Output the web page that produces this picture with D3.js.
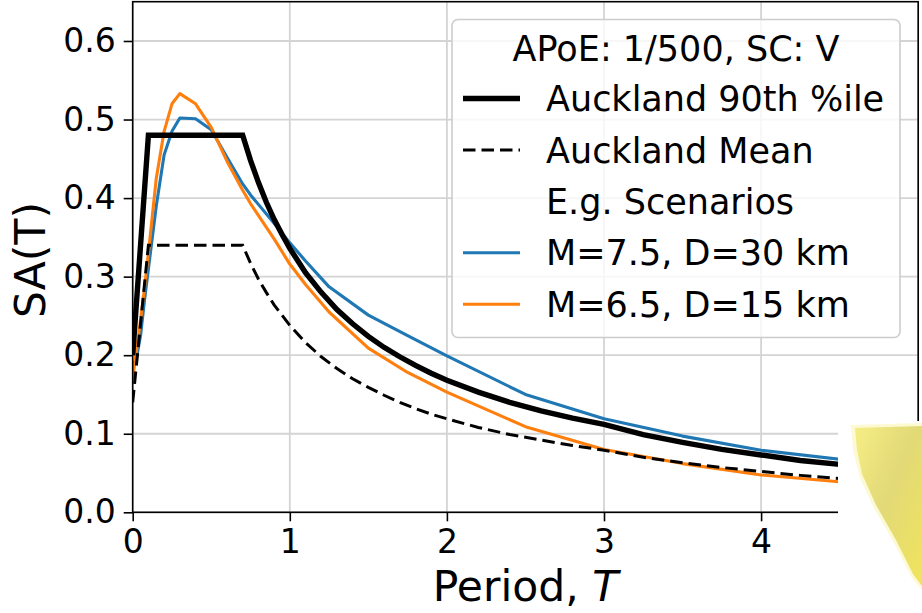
<!DOCTYPE html>
<html>
<head>
<meta charset="utf-8">
<script src="https://cdn.jsdelivr.net/npm/d3@7"></script>
<style>
  html, body { margin: 0; padding: 0; background: #ffffff; }
  svg { display: block; font-family: "DejaVu Sans", sans-serif; }
</style>
</head>
<body>
<svg id="chart" width="922" height="613"></svg>
<script>
// ---- Data ----
const aucklandPeriods = [0, 0.1, 0.7, 0.75, 0.8, 0.85, 0.9, 0.95, 1.0, 1.1, 1.2, 1.3, 1.4, 1.5, 1.6, 1.7, 1.8, 1.9, 2.0, 2.2, 2.4, 2.6, 2.8, 3.0, 3.25, 3.5, 3.75, 4.0, 4.25, 4.5, 4.75, 5.0];
const auckland90 = [0.20, 0.48, 0.48, 0.448, 0.42, 0.395, 0.373, 0.354, 0.336, 0.305, 0.28, 0.258, 0.24, 0.224, 0.21, 0.198, 0.187, 0.177, 0.168, 0.153, 0.14, 0.129, 0.12, 0.112, 0.099, 0.089, 0.08, 0.073, 0.066, 0.061, 0.056, 0.052];
const aucklandMean = [0.14, 0.34, 0.34, 0.317, 0.297, 0.28, 0.264, 0.251, 0.238, 0.216, 0.198, 0.183, 0.17, 0.159, 0.149, 0.14, 0.132, 0.125, 0.119, 0.108, 0.099, 0.092, 0.085, 0.079, 0.070, 0.063, 0.057, 0.052, 0.047, 0.043, 0.040, 0.037];

const scenarioPeriods = [0, 0.02, 0.05, 0.075, 0.1, 0.15, 0.2, 0.25, 0.3, 0.4, 0.5, 0.6, 0.7, 0.75, 0.8, 0.9, 1.0, 1.1, 1.25, 1.5, 1.75, 2.0, 2.5, 3.0, 3.5, 4.0, 5.0];
const scenarioM75 = [0.19, 0.192, 0.225, 0.27, 0.31, 0.39, 0.455, 0.485, 0.502, 0.501, 0.487, 0.452, 0.418, 0.404, 0.392, 0.368, 0.343, 0.32, 0.287, 0.251, 0.225, 0.199, 0.15, 0.119, 0.097, 0.079, 0.056];
const scenarioM65 = [0.17, 0.20, 0.245, 0.285, 0.33, 0.425, 0.485, 0.52, 0.533, 0.52, 0.49, 0.447, 0.41, 0.393, 0.378, 0.348, 0.316, 0.29, 0.255, 0.209, 0.178, 0.153, 0.109, 0.080, 0.062, 0.0475, 0.030];

const xTicks = [0, 1, 2, 3, 4];
const yTicks = [0.0, 0.1, 0.2, 0.3, 0.4, 0.5, 0.6];

const legendTitle = "APoE: 1/500, SC: V";
const legendLabels = ["Auckland 90th %ile", "Auckland Mean", "E.g. Scenarios", "M=7.5, D=30 km", "M=6.5, D=15 km"];
const xLabel = "Period, ";
const xLabelItalic = "T";
const yLabel = "SA(T)";

// ---- Layout ----
const svg = d3.select("#chart");
const pL = 132.7, pR = 918.2, pT = 1.7, pB = 512.3;
const x = d3.scaleLinear().domain([0, 5]).range([pL, pR]);
const y = d3.scaleLinear().domain([0, 0.65]).range([pB, pT]);

const blue = "#1f77b4", orange = "#ff7f0e";
const tickFont = 33, labelFont = 42.5, legendFont = 35;
const wThick = 5.4, wThin = 3.1, wDash = 3.0, dashPat = "12.5,6";

// grid
const grid = svg.append("g");
grid.selectAll("line.gx").data([0, 1, 2, 3, 4, 5]).enter().append("line")
  .attr("x1", d => x(d)).attr("x2", d => x(d)).attr("y1", pT).attr("y2", pB)
  .attr("stroke", "#d4d4d4").attr("stroke-width", 1.8);
grid.selectAll("line.gy").data(yTicks).enter().append("line")
  .attr("x1", pL).attr("x2", pR).attr("y1", d => y(d)).attr("y2", d => y(d))
  .attr("stroke", "#d4d4d4").attr("stroke-width", 1.8);

// lines
const line = d3.line().x(d => x(d[0])).y(d => y(d[1]));
const zip = (a, b) => a.map((v, i) => [v, b[i]]);
svg.append("clipPath").attr("id", "plotclip").append("rect")
  .attr("x", pL).attr("y", pT).attr("width", pR - pL).attr("height", pB - pT);
const plot = svg.append("g").attr("clip-path", "url(#plotclip)");

plot.append("path").datum(zip(scenarioPeriods, scenarioM75)).attr("d", line)
  .attr("fill", "none").attr("stroke", blue).attr("stroke-width", wThin).attr("stroke-linejoin", "round");
plot.append("path").datum(zip(scenarioPeriods, scenarioM65)).attr("d", line)
  .attr("fill", "none").attr("stroke", orange).attr("stroke-width", wThin).attr("stroke-linejoin", "round");
plot.append("path").datum(zip(aucklandPeriods, auckland90)).attr("d", line)
  .attr("fill", "none").attr("stroke", "#000").attr("stroke-width", wThick).attr("stroke-linejoin", "miter");
plot.append("path").datum(zip(aucklandPeriods, aucklandMean)).attr("d", line)
  .attr("fill", "none").attr("stroke", "#000").attr("stroke-width", wDash)
  .attr("stroke-dasharray", dashPat);

// spines
svg.append("rect").attr("x", pL).attr("y", pT).attr("width", pR - pL).attr("height", pB - pT)
  .attr("fill", "none").attr("stroke", "#000").attr("stroke-width", 1.6);

// axes
const xAxis = d3.axisBottom(x).tickValues(xTicks).tickFormat(d3.format("d")).tickSizeOuter(0).tickSize(9).tickPadding(8);
const yAxis = d3.axisLeft(y).tickValues(yTicks).tickFormat(d3.format(".1f")).tickSizeOuter(0).tickSize(9).tickPadding(8);
const gx = svg.append("g").attr("transform", `translate(0,${pB})`).call(xAxis);
const gy = svg.append("g").attr("transform", `translate(${pL},0)`).call(yAxis);
[gx, gy].forEach(g => {
  g.select(".domain").remove();
  g.selectAll(".tick line").attr("stroke", "#000").attr("stroke-width", 1.6);
  g.selectAll(".tick text").attr("fill", "#000").style("font-size", tickFont + "px")
    .style("font-family", "'DejaVu Sans', sans-serif");
});

// axis labels
const xl = svg.append("text").attr("x", (pL + pR) / 2).attr("y", 601)
  .attr("text-anchor", "middle").style("font-size", labelFont + "px").attr("fill", "#000");
xl.append("tspan").text(xLabel);
xl.append("tspan").text(xLabelItalic).style("font-style", "italic");
svg.append("text").attr("transform", `translate(45,${(pT + pB) / 2 + 3}) rotate(-90)`)
  .attr("text-anchor", "middle").style("font-size", labelFont + "px").attr("fill", "#000").text(yLabel);

// legend
const lg = svg.append("g");
lg.append("rect").attr("x", 452).attr("y", 19.5).attr("width", 448).attr("height", 318).attr("rx", 6)
  .attr("fill", "#ffffff").attr("fill-opacity", 0.8).attr("stroke", "#cccccc").attr("stroke-width", 1.6);
lg.append("text").attr("x", 676).attr("y", 61).attr("text-anchor", "middle")
  .style("font-size", legendFont + "px").attr("fill", "#000").text(legendTitle);
const rowY = [98.5, 150, 201.3, 252.8, 304.3];
const handles = [
  {stroke: "#000", w: wThick, dash: null},
  {stroke: "#000", w: wDash, dash: dashPat},
  null,
  {stroke: blue, w: wThin, dash: null},
  {stroke: orange, w: wThin, dash: null}
];
legendLabels.forEach((lab, i) => {
  const h = handles[i];
  if (h) {
    lg.append("line").attr("x1", 463).attr("x2", 520).attr("y1", rowY[i]).attr("y2", rowY[i])
      .attr("stroke", h.stroke).attr("stroke-width", h.w).attr("stroke-dasharray", h.dash);
  }
  lg.append("text").attr("x", 546).attr("y", rowY[i] + 12.6)
    .style("font-size", legendFont + "px").attr("fill", "#000").text(lab);
});

// pasted image artifact in the lower-right corner of the reference
svg.append("rect").attr("x", 838).attr("y", 421).attr("width", 84).attr("height", 192).attr("fill", "#ffffff");
const defs = svg.append("defs");
const grad = defs.append("linearGradient").attr("id", "blob")
  .attr("x1", "0").attr("y1", "0").attr("x2", "1").attr("y2", "1");
grad.append("stop").attr("offset", "0").attr("stop-color", "#f6ee84");
grad.append("stop").attr("offset", "0.45").attr("stop-color", "#e2d978");
grad.append("stop").attr("offset", "1").attr("stop-color", "#f0e45c");
svg.append("polygon")
  .attr("points", "851,425 922,423 922,590 912,578 894,543 874,508 860,478 853,450")
  .attr("fill", "#fbf7c8").attr("opacity", 0.8);
svg.append("polygon")
  .attr("points", "855,428 922,426 922,586 913,574 896,540 876,505 862,474 857,450")
  .attr("fill", "url(#blob)");
</script>
</body>
</html>
